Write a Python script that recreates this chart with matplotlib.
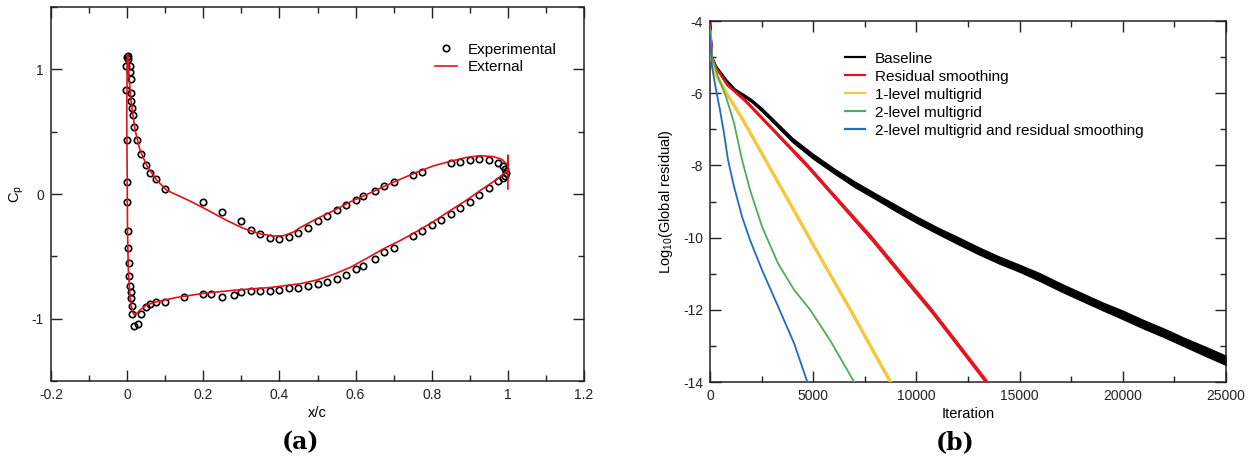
import matplotlib
matplotlib.use('Agg')
import matplotlib.pyplot as plt
from matplotlib.lines import Line2D
from matplotlib.ticker import MultipleLocator, FuncFormatter
import numpy as np

plt.rcParams['font.family'] = ['Liberation Sans', 'DejaVu Sans']
plt.rcParams['mathtext.default'] = 'regular'
plt.rcParams['axes.unicode_minus'] = False

# ---------------- Panel (a): pressure coefficient ----------------
exp_x = [0.0005, 0.001, 0.002, -0.003, 0.007, 0.008, 0.010, -0.002, 0.011, 0.010,
         0.014, 0.015, 0.019, 0.027, 0.037, 0.05, 0.06, 0.075, 0.10, 0.20,
         0.25, 0.30, 0.325, 0.35, 0.375, 0.40, 0.425, 0.45, 0.475, 0.50,
         0.525, 0.55, 0.575, 0.60, 0.62, 0.65, 0.675, 0.70, 0.75, 0.775,
         0.85, 0.875, 0.90, 0.925, 0.95, 0.975, 0.986, 0.992,
         0.0005, 0.0005, 0.0005, 0.002, 0.002, 0.005, 0.006, 0.008, 0.009, 0.010,
         0.012, 0.014, 0.018, 0.028, 0.037, 0.05, 0.06, 0.075, 0.10, 0.15,
         0.20, 0.22, 0.25, 0.28, 0.30, 0.325, 0.35, 0.375, 0.40, 0.425,
         0.45, 0.475, 0.50, 0.525, 0.55, 0.575, 0.60, 0.62, 0.65, 0.675,
         0.70, 0.75, 0.775, 0.80, 0.825, 0.85, 0.875, 0.90, 0.925, 0.95,
         0.975, 0.986, 0.992, 0.996]
exp_cp = [1.10, 1.11, 1.08, 1.03, 1.03, 0.98, 0.92, 0.834, 0.81, 0.75,
          0.69, 0.63, 0.54, 0.43, 0.32, 0.23, 0.17, 0.12, 0.04, -0.067,
          -0.144, -0.22, -0.286, -0.32, -0.35, -0.361, -0.345, -0.31, -0.27, -0.22,
          -0.178, -0.13, -0.09, -0.047, -0.019, 0.027, 0.067, 0.099, 0.155, 0.18,
          0.25, 0.26, 0.27, 0.28, 0.275, 0.25, 0.227, 0.20,
          0.433, 0.094, -0.067, -0.30, -0.43, -0.55, -0.655, -0.735, -0.79, -0.837,
          -0.898, -0.962, -1.06, -1.04, -0.962, -0.91, -0.885, -0.87, -0.87, -0.83,
          -0.80, -0.80, -0.826, -0.81, -0.79, -0.78, -0.78, -0.775, -0.77, -0.757,
          -0.75, -0.74, -0.725, -0.708, -0.68, -0.647, -0.605, -0.575, -0.519, -0.465,
          -0.43, -0.337, -0.294, -0.251, -0.206, -0.158, -0.11, -0.062, -0.005, 0.05,
          0.104, 0.126, 0.144, 0.17]

ext_x = [1.0, 1.0, 1.0, 0.984, 0.962, 0.927, 0.892, 0.848, 0.804, 0.76,
         0.717, 0.673, 0.629, 0.585, 0.542, 0.498, 0.454, 0.437, 0.41, 0.384,
         0.35, 0.305, 0.26, 0.218, 0.174, 0.15, 0.125, 0.104, 0.078, 0.053,
         0.034, 0.021, 0.010, 0.005, 0.002, 0.001, 0.0, -0.001, 0.0, 0.001,
         0.003, 0.007, 0.011, 0.015, 0.019, 0.026, 0.034, 0.051, 0.078, 0.13,
         0.20, 0.288, 0.375, 0.454, 0.498, 0.542, 0.585, 0.63, 0.673, 0.717,
         0.76, 0.804, 0.848, 0.892, 0.936, 0.971, 1.0]
ext_cp = [0.04, 0.31, 0.232, 0.278, 0.30, 0.307, 0.294, 0.262, 0.225, 0.174,
          0.118, 0.059, -0.005, -0.064, -0.134, -0.198, -0.27, -0.305, -0.335, -0.337,
          -0.32, -0.275, -0.21, -0.14, -0.07, -0.035, 0.0, 0.03, 0.11, 0.22,
          0.35, 0.51, 0.75, 0.94, 1.08, 1.12, 1.05, 0.6, 0.2, -0.3,
          -0.6, -0.8, -0.9, -0.95, -0.97, -0.955, -0.93, -0.89, -0.864, -0.83,
          -0.797, -0.77, -0.75, -0.72, -0.69, -0.645, -0.59, -0.515, -0.44, -0.374,
          -0.302, -0.222, -0.134, -0.048, 0.046, 0.118, 0.19]

# ---------------- Panel (b): convergence histories ----------------
base_it = [0, 100, 300, 800, 1200, 1600, 2000, 2500, 3000, 4000, 5000, 6000, 7000,
           8000, 9000, 10000, 11000, 12000, 13000, 14000, 15000, 16000, 17000,
           18000, 19000, 20000, 21000, 22000, 23000, 24000, 25000]
base_res = [-4.0, -5.0, -5.27, -5.65, -5.9, -6.05, -6.2, -6.45, -6.73, -7.3, -7.75,
            -8.15, -8.52, -8.85, -9.18, -9.5, -9.8, -10.08, -10.36, -10.62, -10.85,
            -11.1, -11.38, -11.64, -11.9, -12.14, -12.4, -12.64, -12.9, -13.15, -13.4]
base_spread = [0.02, 0.02, 0.03, 0.03, 0.03, 0.04, 0.04, 0.05, 0.05, 0.06, 0.07,
               0.07, 0.08, 0.08, 0.09, 0.09, 0.09, 0.10, 0.10, 0.10, 0.10,
               0.11, 0.11, 0.11, 0.11, 0.12, 0.12, 0.12, 0.12, 0.13, 0.13]

rs_it = [0, 100, 300, 800, 1200, 1700, 3000, 4700, 6000, 7800, 9200, 10700, 12000,
         13400]
rs_res = [-4.1, -5.03, -5.3, -5.75, -5.95, -6.2, -6.98, -8.0, -8.84, -10.0, -10.97,
          -12.0, -12.96, -14.0]
rs_spread = [0.02, 0.02, 0.03, 0.03, 0.03, 0.04, 0.04, 0.05, 0.05, 0.06, 0.06,
             0.06, 0.06, 0.06]

mg1_it = [0, 50, 300, 800, 1500, 2000, 3000, 4000, 5000, 6000, 7000, 8000, 8750]
mg1_res = [-4.3, -5.0, -5.5, -6.0, -6.65, -7.15, -8.17, -9.18, -10.2, -11.2, -12.2,
           -13.24, -14.0]

mg2_it = [0, 97, 388, 776, 1165, 1553, 1941, 2523, 3300, 4076, 4853, 5823, 6988]
mg2_res = [-4.2, -4.99, -5.54, -6.10, -6.83, -7.85, -8.68, -9.70, -10.72, -11.45,
           -12.0, -12.85, -14.0]

mg2rs_it = [0, 97, 291, 485, 679, 873, 1165, 1553, 1941, 2523, 3300, 4076, 4716]
mg2rs_res = [-4.4, -5.27, -5.9, -6.47, -7.11, -7.85, -8.59, -9.42, -10.07, -10.9,
             -11.91, -12.93, -14.0]

labels_b = ['Baseline', 'Residual smoothing', '1-level multigrid', '2-level multigrid',
            '2-level multigrid and residual smoothing']
colors_b = ['#000000', '#e3141c', '#f8c63a', '#4cae56', '#1f6cc4']

W, H = 1257, 461
fig = plt.figure(figsize=(W / 100, H / 100), dpi=100)

def style(ax):
    for s in ax.spines.values():
        s.set_linewidth(1.1)
        s.set_color('#222222')
    ax.tick_params(which='both', direction='in', top=True, right=True,
                   labelsize=10, pad=5, colors='#222222')
    ax.tick_params(which='major', length=8, width=1.0)
    ax.tick_params(which='minor', length=4, width=1.0)

fmt = FuncFormatter(lambda v, p: ('%g' % round(v, 6)))

# Panel (a)
axa = fig.add_axes([51 / W, 1 - 381 / H, 533 / W, 374 / H])
style(axa)
axa.plot(exp_x, exp_cp, linestyle='none', marker='o', ms=4.6, mfc='none',
         mec='black', mew=1.2, label='Experimental', zorder=2)
axa.plot(ext_x, ext_cp, color='#e3101a', lw=1.2, label='External', zorder=3)
axa.set_xlim(-0.2, 1.2)
axa.set_ylim(-1.5, 1.5)
axa.xaxis.set_major_locator(MultipleLocator(0.2))
axa.xaxis.set_minor_locator(MultipleLocator(0.1))
axa.yaxis.set_major_locator(MultipleLocator(1.0))
axa.yaxis.set_minor_locator(MultipleLocator(0.5))
axa.xaxis.set_major_formatter(fmt)
axa.yaxis.set_major_formatter(fmt)
axa.set_xlabel('x/c', fontsize=10.5, labelpad=3)
axa.set_ylabel('C$_p$', fontsize=10.5, labelpad=4)
axa.legend(loc='upper left', bbox_to_anchor=(0.7205, 0.905), frameon=False,
           fontsize=11, borderpad=0, borderaxespad=0, handlelength=1.45,
           handletextpad=0.7, labelspacing=0.22, numpoints=1)

# Panel (b)
axb = fig.add_axes([710 / W, 1 - 382 / H, 516 / W, 361 / H])
style(axb)
b_lo = np.array(base_res) - np.array(base_spread)
b_hi = np.array(base_res) + np.array(base_spread)
axb.fill_between(base_it, b_lo, b_hi, color=colors_b[0], lw=0.8, zorder=2)
axb.plot(base_it, base_res, color=colors_b[0], lw=1.2, zorder=2)
r_lo = np.array(rs_res) - np.array(rs_spread)
r_hi = np.array(rs_res) + np.array(rs_spread)
axb.fill_between(rs_it, r_lo, r_hi, color=colors_b[1], lw=0.8, zorder=3)
axb.plot(rs_it, rs_res, color=colors_b[1], lw=1.2, zorder=3)
axb.plot(mg1_it, mg1_res, color=colors_b[2], lw=2.4, zorder=4)
axb.plot(mg2_it, mg2_res, color=colors_b[3], lw=1.3, zorder=5)
axb.plot(mg2rs_it, mg2rs_res, color=colors_b[4], lw=1.3, zorder=6)
axb.set_xlim(0, 25000)
axb.set_ylim(-14, -4)
axb.xaxis.set_major_locator(MultipleLocator(5000))
axb.xaxis.set_minor_locator(MultipleLocator(2500))
axb.yaxis.set_major_locator(MultipleLocator(2))
axb.yaxis.set_minor_locator(MultipleLocator(1))
axb.xaxis.set_major_formatter(fmt)
axb.yaxis.set_major_formatter(fmt)
axb.set_xlabel('Iteration', fontsize=10.5, labelpad=3)
axb.set_ylabel('Log$_{10}$(Global residual)', fontsize=10.5, labelpad=6)
handles = [Line2D([], [], color=c, lw=1.6) for c in colors_b]
axb.legend(handles, labels_b, loc='upper left', bbox_to_anchor=(0.2616, 0.915),
           frameon=False, fontsize=11, borderpad=0, borderaxespad=0,
           handlelength=1.3, handletextpad=0.65, labelspacing=0.26)

fig.text(300 / W, 1 - 442 / H, '(a)', fontsize=17, fontweight='bold',
         family='DejaVu Serif', ha='center', va='center')
fig.text(955 / W, 1 - 442 / H, '(b)', fontsize=17, fontweight='bold',
         family='DejaVu Serif', ha='center', va='center')

fig.savefig('out.png', dpi=100)
